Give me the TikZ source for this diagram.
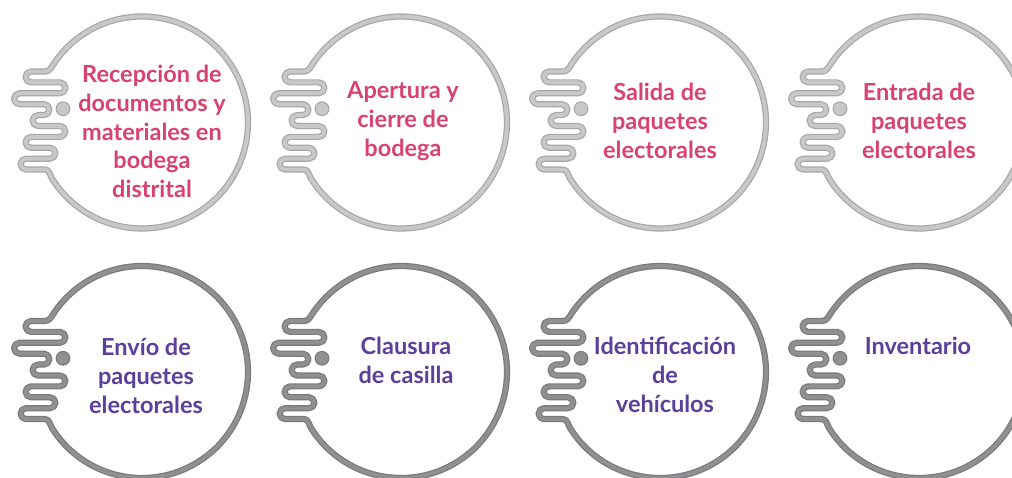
\documentclass[tikz,border=0pt]{standalone}
\usepackage{fontspec}
\setmainfont{Lato}
\definecolor{pinktx}{HTML}{D9426F}
\definecolor{purptx}{HTML}{5C3E9B}
\definecolor{lightedge}{HTML}{A6A6A9}
\definecolor{lightbody}{HTML}{C8C8CA}
\definecolor{darkedge}{HTML}{7A7A7D}
\definecolor{darkbody}{HTML}{909093}
\newcommand\meanderpath{(-97,-47.1) to[out=0,in=122] (212:106)
  arc[start angle=212,end angle=507,radius=106] to[out=237,in=0] (-97,51)
  -- (-111,51) arc[start angle=90,end angle=270,radius=5.45]
  -- (-82,40.1) arc[start angle=90,end angle=-90,radius=5.45]
  -- (-122.5,29.2) arc[start angle=90,end angle=270,radius=5.45]
  -- (-98,18.3) arc[start angle=90,end angle=-90,radius=5.45]
  -- (-104,7.4) arc[start angle=90,end angle=270,radius=5.45]
  -- (-82,-3.5) arc[start angle=90,end angle=-90,radius=5.45]
  -- (-111,-14.4) arc[start angle=90,end angle=270,radius=5.45]
  -- (-92,-25.3) arc[start angle=90,end angle=-90,radius=5.45]
  -- (-116,-36.2) arc[start angle=90,end angle=270,radius=5.45]
  -- cycle}
\tikzset{
  lighttube/.style={/utils/exec={\colorlet{tedge}{lightedge}\colorlet{tbody}{lightbody}}},
  darktube/.style={/utils/exec={\colorlet{tedge}{darkedge}\colorlet{tbody}{darkbody}}},
  tube/.pic={
    \draw[tedge,line width=6.2pt,line join=round] \meanderpath;
    \draw[tbody,line width=3.8pt,line join=round] \meanderpath;
    \fill[tedge] (-79,13.7) circle[radius=7.4];
    \fill[tbody] (-79,13.7) circle[radius=6.2];
  },
  lab/.style={align=center,inner sep=0pt,font=\fontsize{23.5}{28.7}\selectfont\bfseries},
  pinklab/.style={lab,text=pinktx},
  purplab/.style={lab,text=purptx}
}
\begin{document}
\begin{tikzpicture}[x=1pt,y=1pt]
\useasboundingbox (0,0) rectangle (1012,478);
\clip (0,0) rectangle (1012,478);
\fill[white] (0,0) rectangle (1012,478);
% top row
\pic[lighttube] at (142,355.5) {tube};
\pic[lighttube] at (401,355.5) {tube};
\pic[lighttube] at (660,355.5) {tube};
\pic[lighttube] at (919,355.5) {tube};
% bottom row
\pic[darktube] at (142,106) {tube};
\pic[darktube] at (401,106) {tube};
\pic[darktube] at (660,106) {tube};
\pic[darktube] at (919,106) {tube};
% labels
\node[pinklab] (t1) at (152,346.5) {Recepción de\\documentos y\\materiales en\\bodega\\distrital};
\node[pinklab] (t2) at (403,357) {Apertura y\\cierre de\\bodega};
\node[pinklab] (t3) at (660,357) {Salida de\\paquetes\\electorales};
\node[pinklab] (t4) at (919,357) {Entrada de\\paquetes\\electorales};
\node[purplab] (b1) at (146,102) {Envío de\\paquetes\\electorales};
\node[purplab] (b2) at (406,117.5) {Clausura\\de casilla};
\node[purplab] (b3) at (665,103) {Identificación\\de\\vehículos};
\node[purplab] (b4) at (918,132) {Inventario};
\end{tikzpicture}
\end{document}
